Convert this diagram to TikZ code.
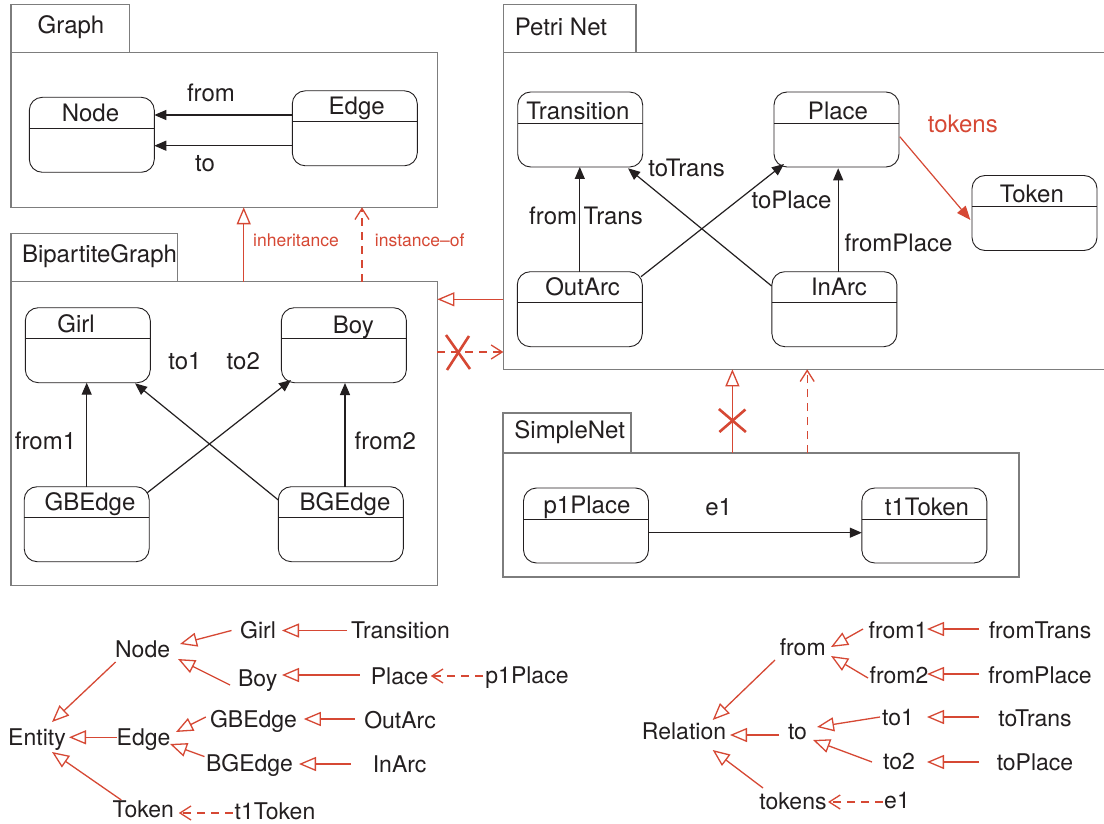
\documentclass[tikz,border=0pt]{standalone}
\usepackage{fontspec}
\setmainfont{TeX Gyre Heros}
\usetikzlibrary{arrows.meta}
\definecolor{relred}{RGB}{214,72,52}
\definecolor{pkggray}{RGB}{125,125,125}
\definecolor{ink}{RGB}{35,31,32}

% class box: name, centre, title x, title y, title
\newcommand\umlbox[5]{%
  \node[cls] (#1) at (#2) {};
  \draw[ink, line width=0.9pt] ([yshift=-31pt]#1.north west) -- ([yshift=-31pt]#1.north east);
  \node[lbl] (#1-title) at (#3,#4) {#5};
}

\begin{document}
\begin{tikzpicture}[x=1pt,y=-1pt,
  every node/.style={inner sep=0pt, outer sep=0pt},
  lbl/.style={font=\fontsize{24}{28}\selectfont, text=ink, inner sep=1pt},
  tree/.style={font=\fontsize{23}{27}\selectfont, text=ink, inner sep=1pt},
  small/.style={font=\fontsize{17.5}{20}\selectfont, text=relred, inner sep=1pt},
  pkg/.style={draw=pkggray, line width=1.4pt, rectangle},
  cls/.style={draw=ink, line width=0.9pt, rectangle, rounded corners=13pt,
    minimum width=125pt, minimum height=75pt},
  assoc/.style={draw=ink, line width=1.2pt, -{Triangle[length=12pt,width=10pt]}},
  tokarr/.style={draw=relred, line width=1.2pt, -{Triangle[length=14pt,width=11pt]}},
  inh/.style={draw=relred, line width=1.3pt, -{Triangle[open,length=17pt,width=14pt]}},
  inst/.style={draw=relred, line width=1.3pt, dash pattern=on 8pt off 6pt,
    -{Straight Barb[length=11pt,width=14pt]}},
  cross/.style={draw=relred, line width=2.6pt},
]
\fill[white] (0,0) rectangle (1104,824);
\useasboundingbox (0,0) rectangle (1104,824);

% ---------- packages ----------
\node[pkg, minimum width=118.3pt, minimum height=48.4pt] (graphTab) at (70.2,28.5) {};
\node[pkg, minimum width=426.3pt, minimum height=154.6pt] (graphBody) at (224.2,130) {};
\node[lbl] (graphName) at (71,27.5) {Graph};

\node[pkg, minimum width=166.7pt, minimum height=48.4pt] (bipTab) at (94.4,257.5) {};
\node[pkg, minimum width=426.3pt, minimum height=304pt] (bipBody) at (224.2,433.7) {};
\node[lbl] (bipName) at (99.5,256) {BipartiteGraph};

\node[pkg, minimum width=132.7pt, minimum height=48pt] (petriTab) at (569.7,28.7) {};
\node[pkg, minimum width=616.7pt, minimum height=316.6pt] (petriBody) at (811.7,211) {};
\node[lbl] (petriName) at (561,26.7) {Petri Net};

\node[pkg, minimum width=128pt, minimum height=40pt] (simpleTab) at (567,433) {};
\node[pkg, minimum width=516pt, minimum height=124pt] (simpleBody) at (761,515) {};
\node[lbl] (simpleName) at (569.7,431.7) {SimpleNet};

% ---------- classes ----------
\umlbox{nodeC}{91.8,134.8}{90.5}{112.5}{Node}
\umlbox{edgeC}{354.8,128.3}{356.7}{108.7}{Edge}

\umlbox{girlC}{87.8,345.2}{76}{324}{Girl}
\umlbox{boyC}{343.9,345.2}{353.3}{327.5}{Boy}
\umlbox{gbedgeC}{86.7,524.2}{90}{504}{GBEdge}
\umlbox{bgedgeC}{340.8,524.2}{345}{504}{BGEdge}

\umlbox{transC}{580.2,129.5}{578}{110.5}{Transition}
\umlbox{placeC}{836.5,129.5}{838}{110.5}{Place}
\umlbox{tokenC}{1034.5,213}{1031.8}{194}{Token}
\umlbox{outarcC}{579.8,309.2}{582.6}{287}{OutArc}
\umlbox{inarcC}{834.4,309.2}{839}{287}{InArc}

\umlbox{p1placeC}{586,525.5}{587}{507}{p1Place}
\umlbox{t1tokenC}{924.3,525.5}{927}{507}{t1Token}

% ---------- associations ----------
\draw[assoc] ([yshift=13.3pt]edgeC.west) -- ([yshift=19.8pt]nodeC.east);
\draw[assoc] ([yshift=-17.4pt]edgeC.west) -- ([yshift=-10.9pt]nodeC.east);
\node[lbl] (lfrom) at (211,93) {from};
\node[lbl] (lto) at (205,164) {to};

\draw[assoc] (gbedgeC.north) -- (gbedgeC.north |- girlC.south);
\draw[assoc] ([shift={(4.2,-37.5)}]bgedgeC.center) -- ([shift={(1.1,37.8)}]boyC.center);
\draw[assoc] ([shift={(-62.5,-24.2)}]bgedgeC.center) -- ([shift={(47.2,38.1)}]girlC.center);
\draw[assoc] ([shift={(60.6,-31.5)}]gbedgeC.center) -- ([shift={(-52.9,34.8)}]boyC.center);
\node[lbl] (lto1) at (185,361) {to1};
\node[lbl] (lto2) at (243.3,361) {to2};
\node[lbl] (lfrom1) at (45.5,440.5) {from1};
\node[lbl] (lfrom2) at (385.3,440.5) {from2};

\draw[assoc] (outarcC.north) -- (outarcC.north |- transC.south);
\draw[assoc] ([shift={(-62.8,-23.2)}]inarcC.center) -- ([shift={(47.8,38.8)}]transC.center);
\draw[assoc] ([shift={(61.2,-32.5)}]outarcC.center) -- ([shift={(-52.5,34.5)}]placeC.center);
\draw[assoc] ([shift={(3.8,-37.5)}]inarcC.center) -- ([shift={(1.7,38.8)}]placeC.center);
\draw[tokarr] ([shift={(63.3,7.2)}]placeC.center) -- ([shift={(-64.1,7)}]tokenC.center);
\node[lbl] (lfromTrans) at (586,216) {from Trans};
\node[lbl] (ltoTrans) at (686.6,168) {toTrans};
\node[lbl] (ltoPlace) at (791.5,199.5) {toPlace};
\node[lbl] (lfromPlace) at (898.5,242.5) {fromPlace};
\node[lbl, text=relred] (ltokens) at (962.8,124) {tokens};

\draw[assoc] ([yshift=-7.2pt]p1placeC.east) -- ([yshift=-7.2pt]t1tokenC.west);
\node[lbl] (le1) at (718.7,507.5) {e1};

% ---------- relations between packages ----------
\draw[inh] ([xshift=19.5pt]bipBody.north) -- ([xshift=19.5pt]graphBody.south);
\draw[inst] ([xshift=137.8pt]bipBody.north) -- ([xshift=137.8pt]graphBody.south);
\node[small] (linh) at (296,240.5) {inheritance};
\node[small] (linst) at (419.7,240.5) {instance--of};

\draw[inh] ([yshift=-88.3pt]petriBody.west) -- ([yshift=134.4pt]bipBody.east);
\draw[inst] ([yshift=81.7pt]bipBody.east) -- ([yshift=-141pt]petriBody.west);
\coordinate (crossA) at (458,352);
\draw[cross] ([shift={(-12,-17)}]crossA) -- ([shift={(12,17)}]crossA);
\draw[cross] ([shift={(11,-16)}]crossA) -- ([shift={(-11,18)}]crossA);

\draw[inh] ([xshift=-28.6pt]simpleBody.north) -- ([xshift=-79.3pt]petriBody.south);
\draw[inst] ([xshift=46.2pt]simpleBody.north) -- ([xshift=-4.5pt]petriBody.south);
\coordinate (crossB) at (732.4,420.5);
\draw[cross] ([shift={(-13.5,-11.5)}]crossB) -- ([shift={(13.5,11.5)}]crossB);
\draw[cross] ([shift={(13,-11)}]crossB) -- ([shift={(-13,11.5)}]crossB);

% ---------- entity hierarchy ----------
\node[tree] (entityT) at (37,740) {Entity};
\node[tree] (nodeT) at (142.6,649) {Node};
\node[tree] (edgeT) at (143.6,740) {Edge};
\node[tree] (tokenT) at (143.3,809) {Token};
\node[tree] (girlT) at (258,630.5) {Girl};
\node[tree] (boyT) at (257.7,681) {Boy};
\node[tree] (gbedgeT) at (253.5,721) {GBEdge};
\node[tree] (bgedgeT) at (249.5,765) {BGEdge};
\node[tree] (transT) at (400.5,630.5) {Transition};
\node[tree] (placeT) at (399.6,676) {Place};
\node[tree] (p1placeT) at (527,678) {p1Place};
\node[tree] (outarcT) at (400,720.5) {OutArc};
\node[tree] (inarcT) at (399.6,764.5) {InArc};
\node[tree] (t1tokenT) at (275,811) {t1Token};

\draw[inh] ([shift={(-27,13)}]nodeT.center) -- ([shift={(15,-18)}]entityT.center);
\draw[inh] ([shift={(-26.6,-2.7)}]edgeT.center) -- ([shift={(32,-2.7)}]entityT.center);
\draw[inh] ([shift={(-22,-9)}]tokenT.center) -- ([shift={(15,12)}]entityT.center);
\draw[inh] ([shift={(-26.5,0)}]girlT.center) -- ([shift={(37.4,-5)}]nodeT.center);
\draw[inh] ([shift={(-27.7,4)}]boyT.center) -- ([shift={(35.4,10)}]nodeT.center);
\draw[inh] ([shift={(-47.7,-4)}]gbedgeT.center) -- ([shift={(32.4,-8)}]edgeT.center);
\draw[inh] ([shift={(-45,-8.4)}]bgedgeT.center) -- ([shift={(26.4,4)}]edgeT.center);
\draw[inh] ([shift={(-53.5,0)}]transT.center) -- ([shift={(24,0)}]girlT.center);
\draw[inh] ([shift={(-40,-1)}]placeT.center) -- ([shift={(24.3,-6)}]boyT.center);
\draw[inst] ([shift={(-44.3,-2)}]p1placeT.center) -- ([shift={(31.2,0)}]placeT.center);
\draw[inh] ([shift={(-45.4,-1.5)}]outarcT.center) -- ([shift={(50.3,-2)}]gbedgeT.center);
\draw[inh] ([shift={(-48.8,-0.5)}]inarcT.center) -- ([shift={(49.5,-1)}]bgedgeT.center);
\draw[inst] ([shift={(-42.3,2)}]t1tokenT.center) -- ([shift={(35.5,4)}]tokenT.center);

% ---------- relation hierarchy ----------
\node[tree] (relT) at (684,731) {Relation};
\node[tree] (fromT) at (802.7,647.7) {from};
\node[tree] (toT) at (797.5,732) {to};
\node[tree] (tokensT) at (793,801) {tokens};
\node[tree] (from1T) at (898,630) {from1};
\node[tree] (from2T) at (899,675) {from2};
\node[tree] (to1T) at (898,718) {to1};
\node[tree] (to2T) at (899,762) {to2};
\node[tree] (fromTransT) at (1040,630) {fromTrans};
\node[tree] (fromPlaceT) at (1040,675) {fromPlace};
\node[tree] (toTransT) at (1035,718) {toTrans};
\node[tree] (toPlaceT) at (1035,762) {toPlace};
\node[tree] (e1T) at (897,801) {e1};

\draw[inh] ([shift={(-27.7,12.3)}]fromT.center) -- ([shift={(28.7,-11)}]relT.center);
\draw[inh] ([shift={(-18.5,3)}]toT.center) -- ([shift={(46,4)}]relT.center);
\draw[inh] ([shift={(-30,-13)}]tokensT.center) -- ([shift={(28.7,19)}]relT.center);
\draw[inh] ([shift={(-35,-1)}]from1T.center) -- ([shift={(28.3,-0.7)}]fromT.center);
\draw[inh] ([shift={(-31,3)}]from2T.center) -- ([shift={(28.3,8.3)}]fromT.center);
\draw[inh] ([shift={(-18,-1)}]to1T.center) -- ([shift={(19.5,-5)}]toT.center);
\draw[inh] ([shift={(-27,0)}]to2T.center) -- ([shift={(15.5,8)}]toT.center);
\draw[inh] ([shift={(-61,-1)}]fromTransT.center) -- ([shift={(29,-1)}]from1T.center);
\draw[inh] ([shift={(-61,-1)}]fromPlaceT.center) -- ([shift={(28,-1)}]from2T.center);
\draw[inh] ([shift={(-56,-1)}]toTransT.center) -- ([shift={(29,-1)}]to1T.center);
\draw[inh] ([shift={(-56,0)}]toPlaceT.center) -- ([shift={(28,0)}]to2T.center);
\draw[inst] ([shift={(-14,1)}]e1T.center) -- ([shift={(35,1)}]tokensT.center);
\end{tikzpicture}
\end{document}
